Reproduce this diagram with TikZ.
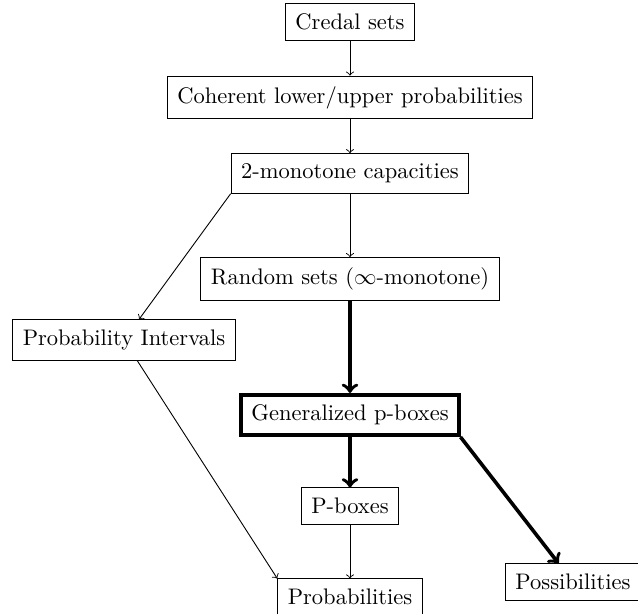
\documentclass[tikz,border=0pt]{standalone}
\begin{document}
\begin{tikzpicture}[x=0.4444pt,y=-0.4444pt,
  box/.style={draw,line width=0.4pt,inner sep=4.5pt},
  bigbox/.style={draw,line width=1.6pt,inner sep=4.5pt},
  thin/.style={->,line width=0.4pt},
  heavy/.style={->,line width=1.6pt}]
\useasboundingbox (0,0) rectangle (638,614);
\node[box] (credal) at (350,22) {Credal sets};
\node[box] (coherent) at (350,97.5) {Coherent lower/upper probabilities};
\node[box] (twomono) at (350,173.5) {2-monotone capacities};
\node[box] (random) at (350,279) {Random sets ($\infty$-monotone)};
\node[box] (probint) at (124,340) {Probability Intervals};
\node[bigbox] (gen) at (350,415) {Generalized p-boxes};
\node[box] (pbox) at (350,506) {P-boxes};
\node[box] (prob) at (350,597) {Probabilities};
\node[box] (poss) at (573,582) {Possibilities};
\draw[thin] (credal) -- (coherent);
\draw[thin] (coherent) -- (twomono);
\draw[thin] (twomono) -- (random);
\draw[thin] (twomono.south west) -- (probint);
\draw[thin] (probint) -- (prob.north west);
\draw[heavy] (random) -- (gen);
\draw[heavy] (gen) -- (pbox);
\draw[heavy] (gen.south east) -- (poss);
\draw[thin] (pbox) -- (prob);
\end{tikzpicture}
\end{document}
